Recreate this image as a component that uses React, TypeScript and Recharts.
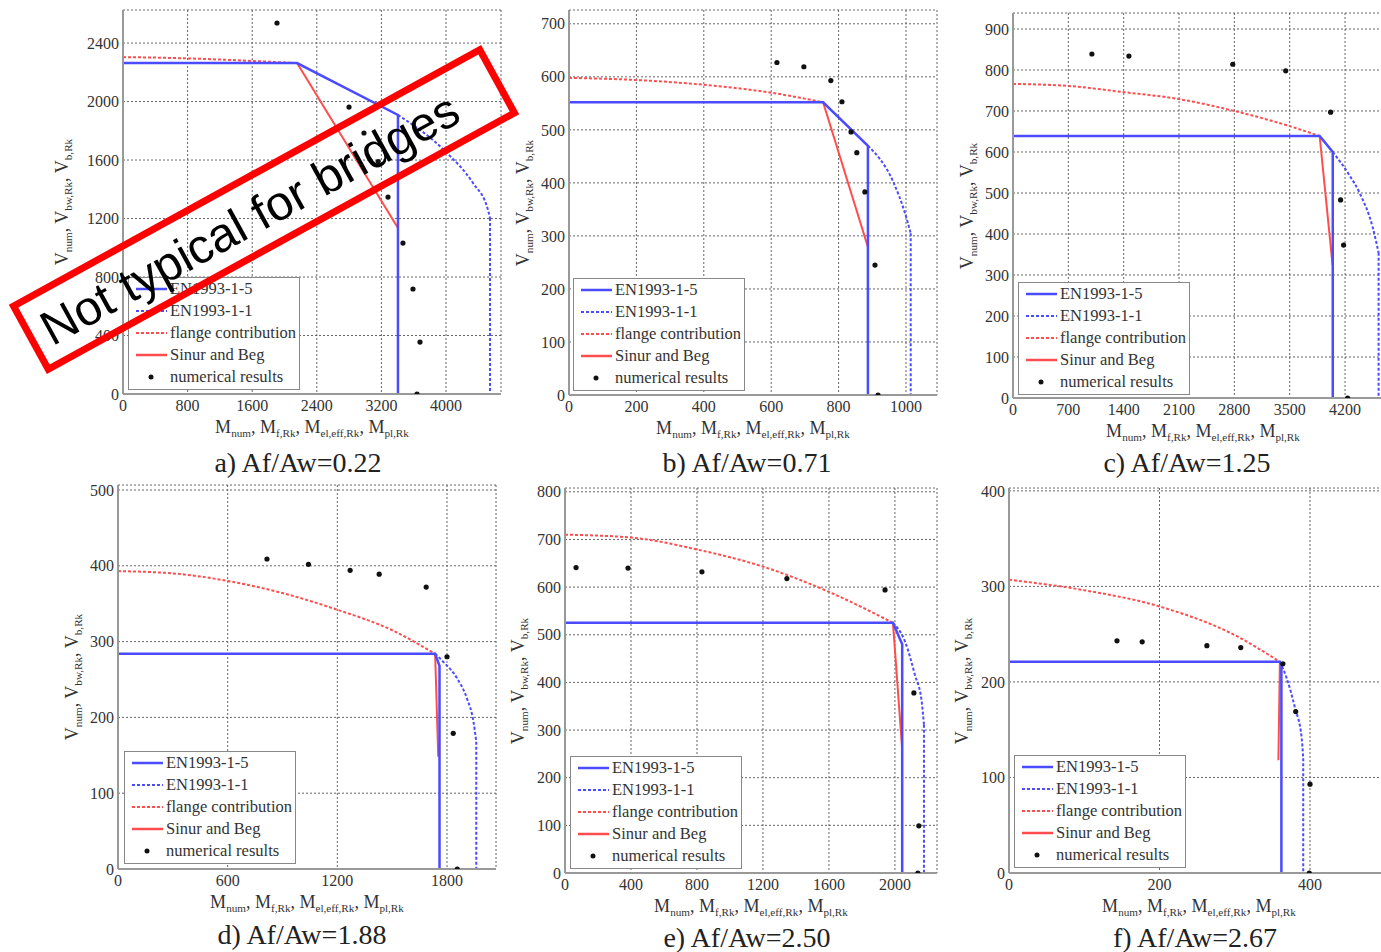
import React from 'react';
import { ComposedChart, Line, Scatter, XAxis, YAxis, CartesianGrid, Legend } from 'recharts';

type Pt = [number, number];

// a) Af/Aw=0.22
const aXTicks = [0, 800, 1600, 2400, 3200, 4000];
const aYTicks = [0, 400, 800, 1200, 1600, 2000, 2400];
const aEn15: Pt[] = [[0, 2263], [2155, 2263], [3405, 1908], [3405, 0]];
const aEn11: Pt[] = [[3405, 1908], [4012, 1648], [4334, 1443], [4520, 1258], [4545, 1203]];
const aEn11Drop: Pt[] = [[4545, 1203], [4545, 0]];
const aFlange: Pt[] = [[0, 2304], [600, 2298], [1200, 2287], [1700, 2275], [2155, 2263]];
const aSinur: Pt[] = [[2155, 2263], [3405, 1135]];
const aNum: Pt[] = [[1907, 2537], [2799, 1962], [2984, 1785], [3160, 1590], [3282, 1347], [3467, 1032], [3591, 718], [3678, 355], [3641, 0]];

// b) Af/Aw=0.71
const bXTicks = [0, 200, 400, 600, 800, 1000];
const bYTicks = [0, 100, 200, 300, 400, 500, 600, 700];
const bEn15: Pt[] = [[0, 552], [754, 552], [887, 470], [887, 0]];
const bEn11: Pt[] = [[887, 470], [962, 402], [997, 343], [1014, 305]];
const bEn11Drop: Pt[] = [[1014, 305], [1014, 0]];
const bFlange: Pt[] = [[0, 598], [200, 594], [400, 585], [600, 570], [754, 552]];
const bSinur: Pt[] = [[754, 552], [887, 279]];
const bNum: Pt[] = [[617, 627], [697, 619], [777, 593], [810, 553], [837, 496], [854, 457], [878, 383], [908, 245], [917, 0]];

// c) Af/Aw=1.25
const cXTicks = [0, 700, 1400, 2100, 2800, 3500, 4200];
const cYTicks = [0, 100, 200, 300, 400, 500, 600, 700, 800, 900];
const cEn15: Pt[] = [[0, 639], [3879, 639], [4045, 600], [4045, 0]];
const cEn11: Pt[] = [[4045, 600], [4250, 545], [4385, 500], [4549, 417], [4625, 354]];
const cEn11Drop: Pt[] = [[4625, 354], [4625, 0]];
const cFlange: Pt[] = [[0, 766], [700, 761], [1400, 746], [2100, 729], [2800, 700], [3500, 663], [3879, 639]];
const cSinur: Pt[] = [[3879, 639], [4043, 324]];
const cNum: Pt[] = [[998, 839], [1466, 834], [2780, 814], [3450, 798], [4018, 697], [4144, 483], [4182, 373], [4233, 0]];

// d) Af/Aw=1.88
const dXTicks = [0, 600, 1200, 1800];
const dYTicks = [0, 100, 200, 300, 400, 500];
const dEn15: Pt[] = [[0, 284], [1735, 284], [1759, 268], [1759, 0]];
const dEn11: Pt[] = [[1735, 284], [1781, 273], [1854, 252], [1909, 225], [1945, 194], [1960, 168]];
const dEn11Drop: Pt[] = [[1960, 168], [1960, 0]];
const dFlange: Pt[] = [[0, 393], [300, 390], [600, 380], [900, 364], [1200, 342], [1500, 315], [1735, 284]];
const dSinur: Pt[] = [[1735, 284], [1752, 148]];
const dNum: Pt[] = [[815, 409], [1042, 402], [1270, 394], [1429, 389], [1686, 372], [1800, 280], [1834, 179], [1856, 0]];

// e) Af/Aw=2.50
const eXTicks = [0, 400, 800, 1200, 1600, 2000];
const eYTicks = [0, 100, 200, 300, 400, 500, 600, 700, 800];
const eEn15: Pt[] = [[0, 525], [1988, 525], [2044, 480], [2044, 0]];
const eEn11: Pt[] = [[1988, 525], [2061, 486], [2121, 416], [2162, 360], [2176, 311]];
const eEn11Drop: Pt[] = [[2176, 311], [2176, 0]];
const eFlange: Pt[] = [[0, 710], [400, 704], [800, 679], [1200, 643], [1600, 590], [1988, 525]];
const eSinur: Pt[] = [[1988, 525], [2043, 265]];
const eNum: Pt[] = [[67, 641], [382, 640], [830, 632], [1345, 618], [1940, 594], [2115, 378], [2145, 99], [2139, 0]];

// f) Af/Aw=2.67
const fXTicks = [0, 200, 400];
const fYTicks = [0, 100, 200, 300, 400];
const fEn15: Pt[] = [[0, 221], [360, 221], [362, 218], [362, 0]];
const fEn11: Pt[] = [[360, 221], [369, 204], [380, 173], [389, 141], [391, 120]];
const fEn11Drop: Pt[] = [[391, 120], [391, 0]];
const fFlange: Pt[] = [[0, 307], [100, 296], [200, 279], [300, 249], [360, 221]];
const fSinur: Pt[] = [[360, 221], [358, 118]];
const fNum: Pt[] = [[143.5, 243], [177, 242], [263, 238], [308, 236], [364, 219], [381, 169], [400, 93], [399, 0]];

const legendLabels = ['EN1993-1-5', 'EN1993-1-1', 'flange contribution', 'Sinur and Beg', 'numerical results'];

const BLUE = '#4b4bff';
const RED = '#ff4d4d';
const SERIF = '"Liberation Serif", "Times New Roman", serif';
const AXW = 60;
const MT = 10;
const XAH = 30;
const MR = 5;

const pts = (arr: Pt[]) => arr.map(([x, y]) => ({ x, y }));

const tickStyle = { fontSize: 16, fill: '#333', fontFamily: 'Liberation Serif' };

function LegendBox() {
  return (
    <div style={{ width: '100%', height: '100%', boxSizing: 'border-box', border: '1.5px solid #888', background: '#fff', fontFamily: SERIF }}>
      {legendLabels.map((lbl, i) => (
        <div key={lbl} style={{ height: 22, display: 'flex', alignItems: 'center' }}>
          <svg width={41} height={22} style={{ flex: 'none' }}>
            {i === 0 && <line x1={7} x2={38} y1={11} y2={11} stroke={BLUE} strokeWidth={2.5} />}
            {i === 1 && <line x1={7} x2={38} y1={11} y2={11} stroke={BLUE} strokeWidth={2} strokeDasharray="3 2" />}
            {i === 2 && <line x1={7} x2={38} y1={11} y2={11} stroke={RED} strokeWidth={2} strokeDasharray="3 2" />}
            {i === 3 && <line x1={7} x2={38} y1={11} y2={11} stroke={RED} strokeWidth={2.5} />}
            {i === 4 && <circle cx={22} cy={11} r={2.5} fill="#111" />}
          </svg>
          <span style={{ fontSize: 16.5, color: '#333', whiteSpace: 'nowrap', lineHeight: 1, fontFamily: SERIF }}>{lbl}</span>
        </div>
      ))}
    </div>
  );
}

const Sub = ({ base, sub }: { base: string; sub: string }) => (
  <span>
    {base}
    <span style={{ fontSize: '0.62em', position: 'relative', top: '0.35em' }}>{sub}</span>
  </span>
);

interface PanelProps {
  caption: string;
  left: number;
  top: number;
  w: number;
  h: number;
  xMax: number;
  yMax: number;
  xTicks: number[];
  yTicks: number[];
  en15: Pt[];
  en11: Pt[];
  en11Drop: Pt[];
  flange: Pt[];
  sinur: Pt[];
  num: Pt[];
  legendAt: [number, number];
  yLabelX: number;
  captionAt: [number, number];
}

const dotShape = (props: any) => <circle cx={props.cx} cy={props.cy} r={2.6} fill="#111" />;

function Panel(p: PanelProps) {
  const cl = p.left - AXW;
  const ct = p.top - MT;
  const axisLine = { stroke: '#999', strokeWidth: 2 };
  return (
    <>
      <div style={{ position: 'absolute', left: cl, top: ct }}>
        <ComposedChart width={AXW + p.w + MR} height={MT + p.h + XAH} margin={{ top: MT, right: MR, bottom: 0, left: 0 }}>
          <CartesianGrid stroke="#666" strokeDasharray="2 2" />
          <XAxis type="number" dataKey="x" domain={[0, p.xMax]} ticks={p.xTicks} interval={0} allowDataOverflow
            height={XAH} tickLine={false} tickSize={4} axisLine={axisLine} tick={tickStyle} />
          <YAxis type="number" dataKey="y" domain={[0, p.yMax]} ticks={p.yTicks} interval={0} allowDataOverflow
            width={AXW} tickLine={false} tickSize={3} tickMargin={1} axisLine={axisLine} tick={tickStyle} />
          <Line data={pts(p.flange)} dataKey="y" type="monotone" stroke={RED} strokeWidth={2} strokeDasharray="3 2"
            dot={false} activeDot={false} isAnimationActive={false} />
          <Line data={pts(p.sinur)} dataKey="y" type="linear" stroke={RED} strokeWidth={2}
            dot={false} activeDot={false} isAnimationActive={false} />
          <Line data={pts(p.en11)} dataKey="y" type="monotone" stroke={BLUE} strokeWidth={2} strokeDasharray="3 2"
            dot={false} activeDot={false} isAnimationActive={false} />
          <Line data={pts(p.en11Drop)} dataKey="y" type="linear" stroke={BLUE} strokeWidth={2} strokeDasharray="3 2"
            dot={false} activeDot={false} isAnimationActive={false} />
          <Line data={pts(p.en15)} dataKey="y" type="linear" stroke={BLUE} strokeWidth={2.5}
            dot={false} activeDot={false} isAnimationActive={false} />
          <Scatter data={pts(p.num)} dataKey="y" fill="#111" shape={dotShape} isAnimationActive={false} />
          <Legend layout="horizontal" verticalAlign="middle" align="center"
            content={() => <LegendBox />}
            wrapperStyle={{ left: p.legendAt[0] - cl, top: p.legendAt[1] - ct, width: 172, height: 113 }} />
        </ComposedChart>
      </div>
      <div style={{ position: 'absolute', left: p.left + p.w / 2, top: p.top + p.h + 24, transform: 'translateX(-50%)',
        fontSize: 18, color: '#333', whiteSpace: 'nowrap', lineHeight: 1 }}>
        <Sub base="M" sub="num" />, <Sub base="M" sub="f,Rk" />, <Sub base="M" sub="el,eff,Rk" />, <Sub base="M" sub="pl,Rk" />
      </div>
      <div style={{ position: 'absolute', left: p.yLabelX, top: p.top + p.h / 2, transform: 'translate(-50%, -50%) rotate(-90deg)',
        fontSize: 18, color: '#333', whiteSpace: 'nowrap', lineHeight: 1 }}>
        <Sub base="V" sub="num" />, <Sub base="V" sub="bw,Rk" />, <Sub base="V" sub="b,Rk" />
      </div>
      <div style={{ position: 'absolute', left: p.captionAt[0], top: p.captionAt[1], transform: 'translate(-50%, -50%)',
        fontSize: 28, color: '#222', whiteSpace: 'nowrap', lineHeight: 1 }}>
        {p.caption}
      </div>
    </>
  );
}

export default function App() {
  return (
    <div style={{ position: 'absolute', left: 0, top: 0, width: 1381, height: 952, overflow: 'hidden', background: '#fff', fontFamily: SERIF }}>
      <Panel caption="a) Af/Aw=0.22" left={123} top={10} w={378} h={384} xMax={4681} yMax={2626}
        xTicks={aXTicks} yTicks={aYTicks} en15={aEn15} en11={aEn11} en11Drop={aEn11Drop} flange={aFlange} sinur={aSinur} num={aNum}
        legendAt={[128, 277]} yLabelX={62} captionAt={[298, 463]} />
      <Panel caption="b) Af/Aw=0.71" left={569} top={10} w={368} h={385} xMax={1092} yMax={726}
        xTicks={bXTicks} yTicks={bYTicks} en15={bEn15} en11={bEn11} en11Drop={bEn11Drop} flange={bFlange} sinur={bSinur} num={bNum}
        legendAt={[573, 278]} yLabelX={523} captionAt={[747, 463]} />
      <Panel caption="c) Af/Aw=1.25" left={1013} top={13} w={380} h={385} xMax={4807} yMax={939}
        xTicks={cXTicks} yTicks={cYTicks} en15={cEn15} en11={cEn11} en11Drop={cEn11Drop} flange={cFlange} sinur={cSinur} num={cNum}
        legendAt={[1018, 282]} yLabelX={967} captionAt={[1187, 463]} />
      <Panel caption="d) Af/Aw=1.88" left={118} top={485} w={378} h={384} xMax={2068} yMax={506.6}
        xTicks={dXTicks} yTicks={dYTicks} en15={dEn15} en11={dEn11} en11Drop={dEn11Drop} flange={dFlange} sinur={dSinur} num={dNum}
        legendAt={[124, 751]} yLabelX={72} captionAt={[302, 935]} />
      <Panel caption="e) Af/Aw=2.50" left={565} top={488} w={372} h={385} xMax={2255} yMax={808}
        xTicks={eXTicks} yTicks={eYTicks} en15={eEn15} en11={eEn11} en11Drop={eEn11Drop} flange={eFlange} sinur={eSinur} num={eNum}
        legendAt={[570, 756]} yLabelX={518} captionAt={[747, 938]} />
      <Panel caption="f) Af/Aw=2.67" left={1009} top={488} w={380} h={385} xMax={505} yMax={403}
        xTicks={fXTicks} yTicks={fYTicks} en15={fEn15} en11={fEn11} en11Drop={fEn11Drop} flange={fFlange} sinur={fSinur} num={fNum}
        legendAt={[1014, 755]} yLabelX={962} captionAt={[1195, 938]} />
      <svg width={1381} height={952} style={{ position: 'absolute', left: 0, top: 0, pointerEvents: 'none' }}>
        <g transform="translate(264,209.5) rotate(-28.8)">
          <rect x={-266} y={-36} width={532} height={72} fill="none" stroke="#ff0000" strokeWidth={7} />
          <text x={-17} y={1} textAnchor="middle" dominantBaseline="central" fontSize={48.5}
            fontFamily="Liberation Sans" fill="#000">Not typical for bridges</text>
        </g>
      </svg>
    </div>
  );
}
